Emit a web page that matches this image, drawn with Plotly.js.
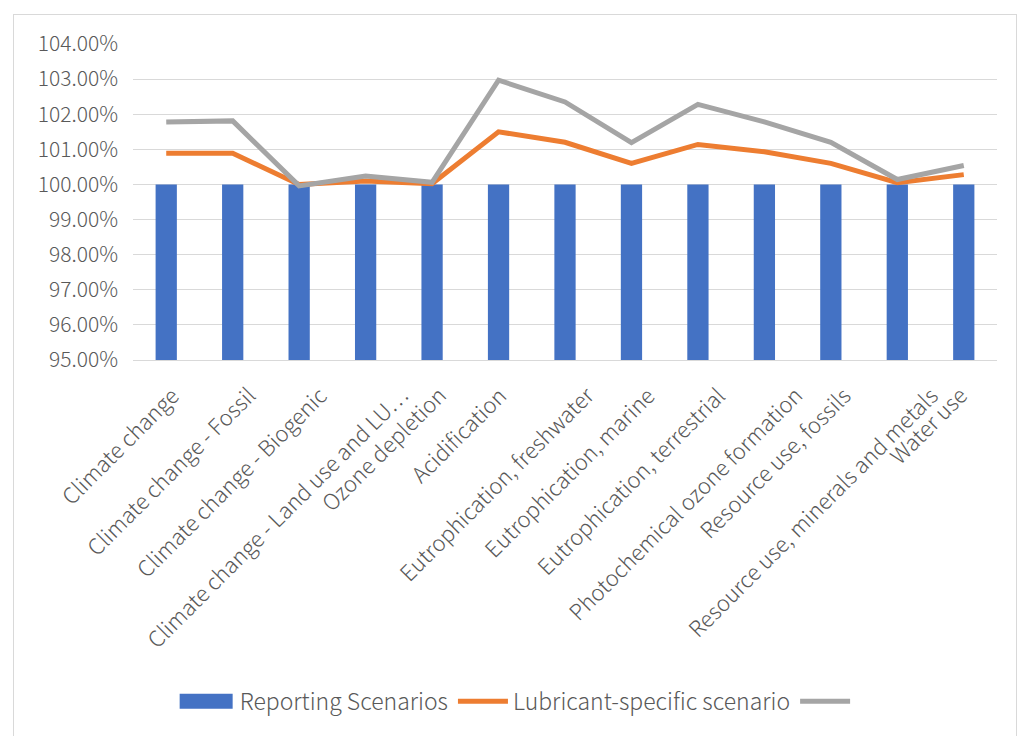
<!DOCTYPE html>
<html>
<head>
<meta charset="utf-8">
<script src="https://cdn.plot.ly/plotly-3.0.1.min.js"></script>
<style>
  html, body { margin: 0; padding: 0; background: #fff; overflow: hidden; }
  #frame { position: absolute; left: 13px; top: 14px; width: 1002px; height: 740px; border: 1px solid #d9d9d9; }
  #chart { position: absolute; left: 0; top: 0; width: 1023px; height: 736px; }
</style>
</head>
<body>
<div id="frame"></div>
<div id="chart"></div>
<script>
// Impact categories on the x axis
const categories = [
  "Climate change",
  "Climate change - Fossil",
  "Climate change - Biogenic",
  "Climate change - Land use and LU…",
  "Ozone depletion",
  "Acidification",
  "Eutrophication, freshwater",
  "Eutrophication, marine",
  "Eutrophication, terrestrial",
  "Photochemical ozone formation",
  "Resource use, fossils",
  "Resource use, minerals and metals",
  "Water use"
];

// Relative results (reporting scenario = 100%)
const reportingValues = [1.00, 1.00, 1.00, 1.00, 1.00, 1.00, 1.00, 1.00, 1.00, 1.00, 1.00, 1.00, 1.00];
const lubricantValues = [1.0089, 1.0089, 1.0000, 1.0010, 1.0002, 1.0150, 1.0120, 1.0060, 1.0114, 1.0093, 1.0060, 1.0005, 1.0028];
const thirdValues     = [1.0178, 1.0181, 0.9996, 1.0024, 1.0006, 1.0297, 1.0235, 1.0119, 1.0228, 1.0178, 1.0120, 1.0014, 1.0054];

const seriesNames = ["Reporting Scenarios", "Lubricant-specific scenario", ""];

const textColor = "#595959";
const fontFamily = "'Noto Sans CJK SC', 'Open Sans', sans-serif";
const baseFont = { family: fontFamily, color: textColor, size: 21, weight: 300 };
const categoryFont = { family: fontFamily, color: textColor, size: 22, weight: 300 };
const legendFont = { family: fontFamily, color: textColor, size: 23, weight: 300 };

// Width of a label in the category font, used to nudge long rotated labels rightwards
const measureCtx = document.createElement("canvas").getContext("2d");
measureCtx.font = "300 22px 'Noto Sans CJK SC', 'Open Sans', sans-serif";
function labelWidth(s) { return measureCtx.measureText(s).width; }

// Rotated category labels, hung from the bottom of the plot area
// (x given as the category's serial number on the category axis)
const categoryLabels = categories.map(function (c, i) {
  return {
    x: i,
    xref: "x",
    y: 0,
    yref: "paper",
    text: c,
    showarrow: false,
    textangle: -45,
    xanchor: "right",
    yanchor: "top",
    xshift: 0.15 * labelWidth(c) - 2,
    yshift: -16,
    font: categoryFont
  };
});

const traces = [
  {
    type: "bar",
    x: categories,
    y: reportingValues,
    name: seriesNames[0],
    marker: { color: "#4472C4" }
  },
  {
    type: "scatter",
    mode: "lines",
    x: categories,
    y: lubricantValues,
    name: seriesNames[1],
    line: { color: "#ED7D31", width: 5 }
  },
  {
    type: "scatter",
    mode: "lines",
    x: categories,
    y: thirdValues,
    name: seriesNames[2],
    line: { color: "#A5A5A5", width: 5 }
  }
];

const layout = {
  width: 1023,
  height: 736,
  margin: { l: 133, r: 26, t: 44, b: 376 },
  paper_bgcolor: "rgba(0,0,0,0)",
  plot_bgcolor: "rgba(0,0,0,0)",
  font: baseFont,
  bargap: 0.68,
  showlegend: true,
  legend: {
    orientation: "h",
    x: 0.054,
    xanchor: "left",
    y: -1.08,
    yanchor: "middle",
    font: legendFont,
    itemwidth: 50,
    traceorder: "normal"
  },
  annotations: categoryLabels,
  xaxis: {
    type: "category",
    range: [-0.5, categories.length - 0.5],
    showticklabels: false,
    showgrid: false,
    showline: true,
    linecolor: "#d9d9d9",
    linewidth: 1,
    ticks: "",
    automargin: false
  },
  yaxis: {
    range: [0.95, 1.04],
    dtick: 0.01,
    tick0: 0.95,
    tickformat: ".2%",
    tickfont: baseFont,
    showgrid: true,
    gridcolor: "#d9d9d9",
    gridwidth: 1,
    zeroline: false,
    showline: false,
    ticks: "",
    ticklabelstandoff: 14,
    automargin: false
  }
};

Plotly.newPlot("chart", traces, layout, { displayModeBar: false, staticPlot: true }).then(function (gd) {
  // Wide rectangular key for the bar series, like the line keys beside it
  const firstItem = gd.querySelector(".legend .traces");
  if (firstItem) {
    firstItem.querySelectorAll(".legendpoints path").forEach(function (p) {
      p.setAttribute("d", "M23,7.5H-31V-7.5H23Z");
    });
  }
});
</script>
</body>
</html>
